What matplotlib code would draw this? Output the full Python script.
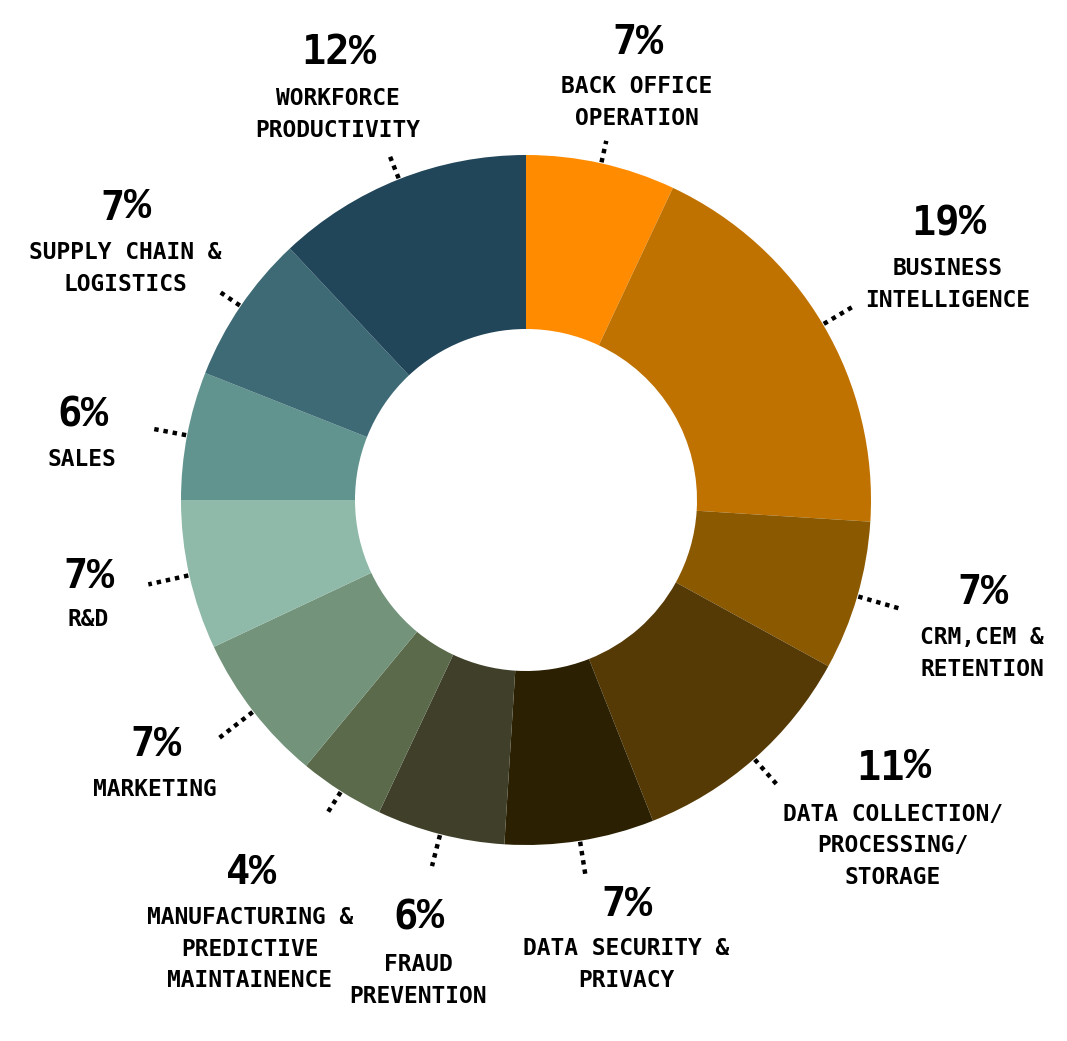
import numpy as np
import matplotlib.pyplot as plt

# slices, clockwise from 12 o'clock
categories = [
    "BACK OFFICE\nOPERATION",
    "BUSINESS\nINTELLIGENCE",
    "CRM,CEM &\nRETENTION",
    "DATA COLLECTION/\nPROCESSING/\nSTORAGE",
    "DATA SECURITY &\nPRIVACY",
    "FRAUD\nPREVENTION",
    "MANUFACTURING &\nPREDICTIVE\nMAINTAINENCE",
    "MARKETING",
    "R&D",
    "SALES",
    "SUPPLY CHAIN &\nLOGISTICS",
    "WORKFORCE\nPRODUCTIVITY",
]
shares = [7, 19, 7, 11, 7, 6, 4, 7, 7, 6, 7, 12]
colors = ["#FF8C00", "#C07200", "#8B5900", "#553A06", "#2B2001", "#40402A",
          "#5A6A4B", "#73937A", "#8FB9A9", "#62948F", "#3D6A75", "#214559"]

# label layout (pixel coords, y from top)
label_x = [637, 948, 982, 893, 626, 418, 250, 155, 88, 82, 125, 338]
pct_y = [43, 224, 593, 768, 905, 918, 873, 745, 577, 415, 208, 53]
first_line_y = [86, 268, 637, 813, 948, 964, 916, 789, 620, 460, 252, 98]
leader_len = [22, 36, 43, 34, 33, 32, 24, 44, 41, 36, 26, 25]

W, H = 1067, 1041
cx, cy = 526, H - 500
R = 345
hole = 171
line_gap = 33
pct_size = 29

fig = plt.figure(figsize=(W / 100, H / 100), dpi=100)
ax = fig.add_axes([0, 0, 1, 1])

wedges, _ = ax.pie(shares, colors=colors, startangle=90, counterclock=False,
                   center=(cx, cy), radius=R,
                   wedgeprops=dict(width=R - hole, edgecolor="none"))
ax.set_xlim(0, W)
ax.set_ylim(0, H)
ax.set_aspect("equal")
ax.axis("off")

mono = "DejaVu Sans Mono"
cell = 0.602 * pct_size * 100 / 72  # monospace advance in px

for w, name, s, x, py, ly, ll in zip(wedges, categories, shares, label_x,
                                     pct_y, first_line_y, leader_len):
    # dotted leader line at the slice middle
    mid = np.deg2rad((w.theta1 + w.theta2) / 2)
    r0, r1 = R + 1, R + 1 + ll
    ax.plot([cx + r0 * np.cos(mid), cx + r1 * np.cos(mid)],
            [cy + r0 * np.sin(mid), cy + r1 * np.sin(mid)],
            color="black", lw=3.2, linestyle=(0, (1, 1.1)), solid_capstyle="butt")

    # percentage: digits in DejaVu mono, % sign from Liberation Mono
    digits = str(s)
    total = (len(digits) + 1) * cell
    split = x - total / 2 + len(digits) * cell
    ax.text(split, H - py, digits, family=mono, weight="bold",
            fontsize=pct_size, ha="right", va="center")
    ax.text(split - 1, H - py + 1, "%", family="Liberation Mono", weight="bold",
            fontsize=pct_size * 1.12, ha="left", va="center")

    n = name.count("\n") + 1
    yc = ly + (n - 1) * line_gap / 2
    ax.text(x, H - yc, name, family=mono, weight="bold", fontsize=16.5,
            ha="center", va="center", multialignment="center", linespacing=1.45)

fig.savefig("out.png", dpi=100, facecolor="white")
